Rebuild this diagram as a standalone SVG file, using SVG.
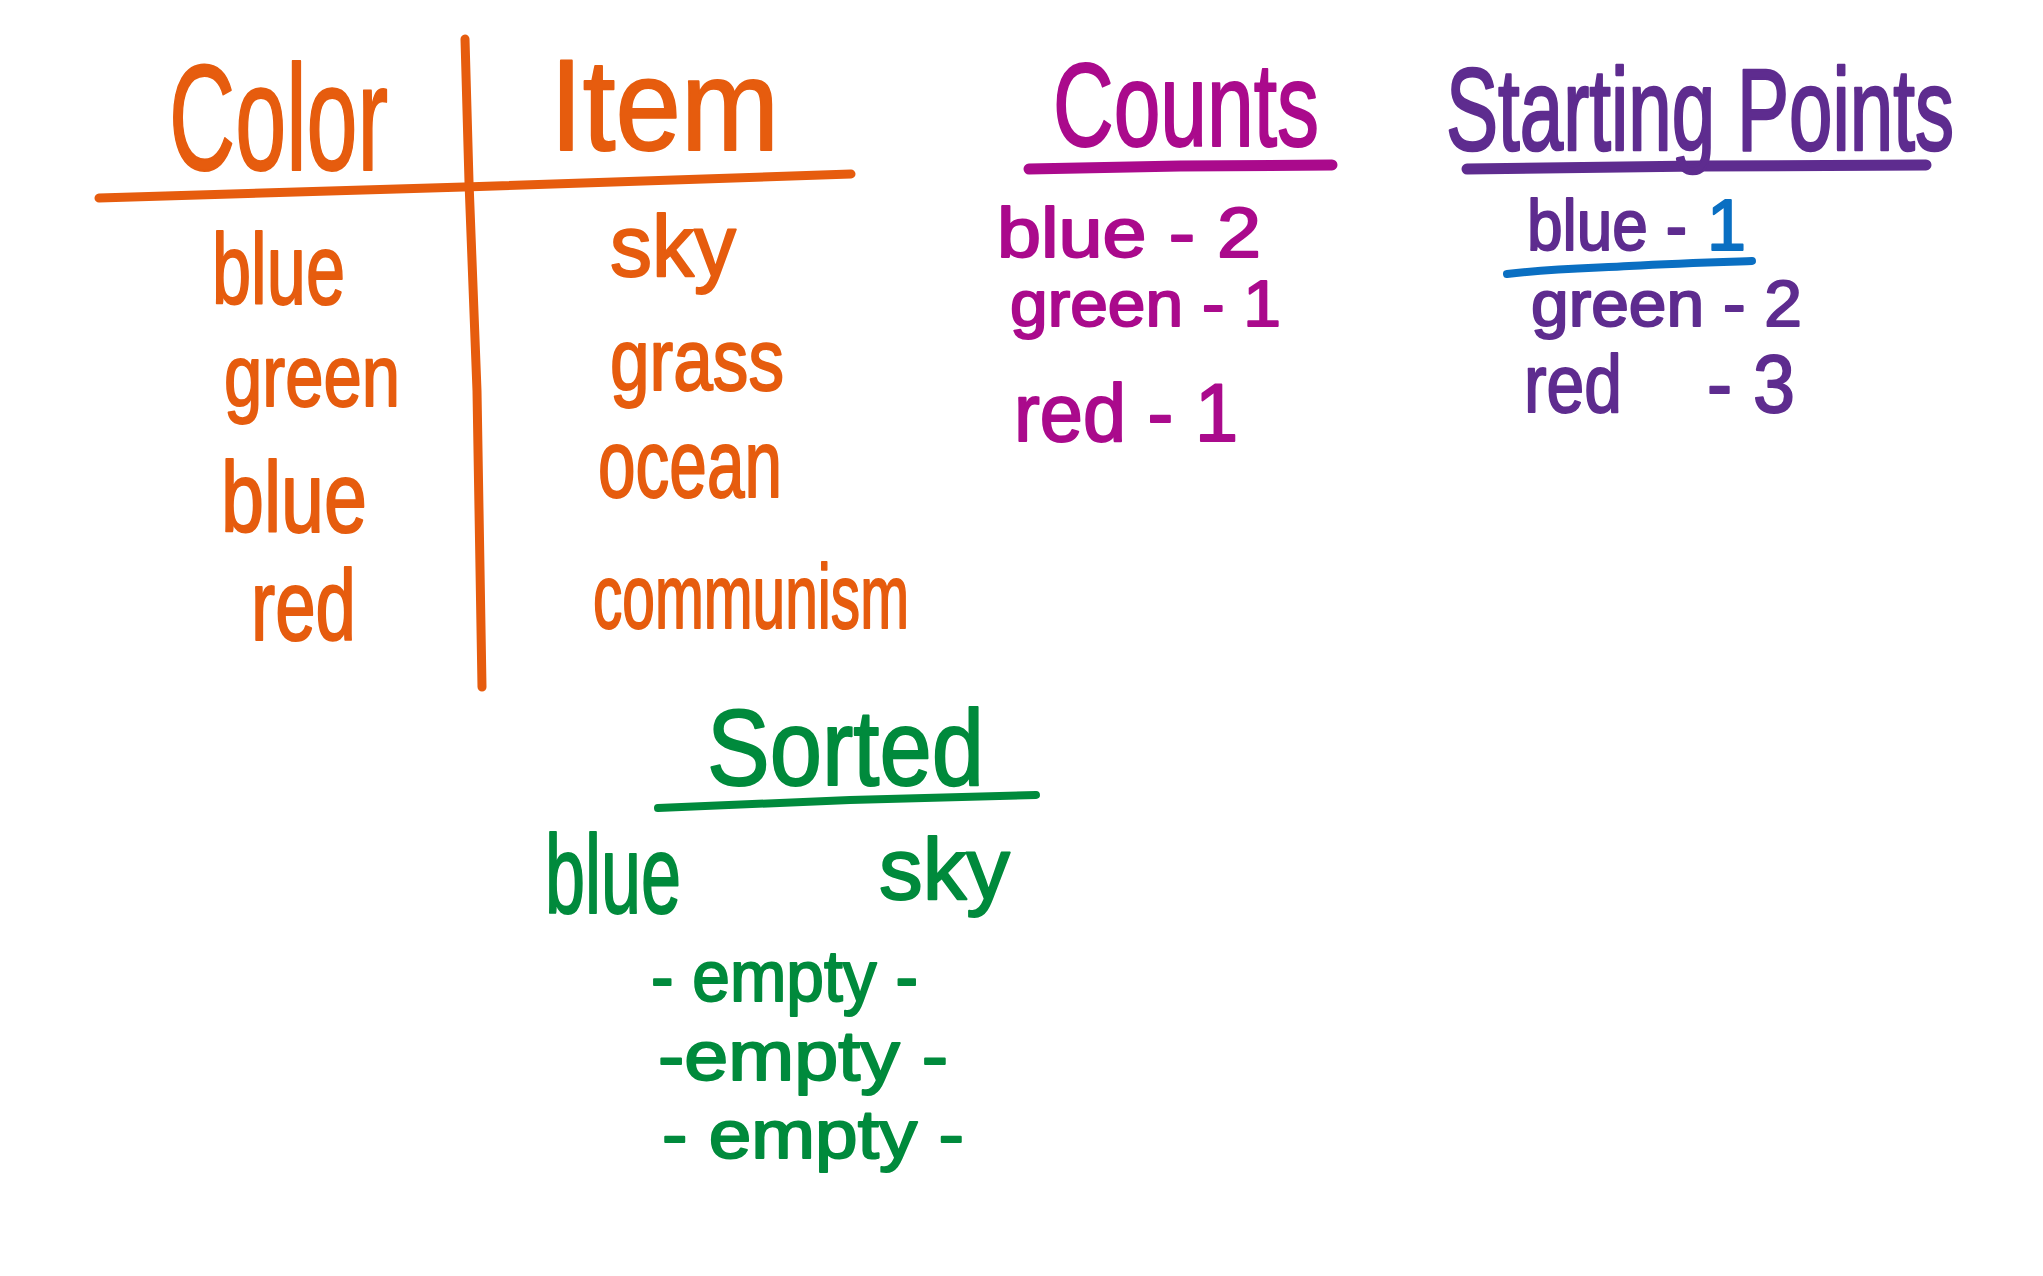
<svg xmlns="http://www.w3.org/2000/svg" width="2043" height="1276" viewBox="0 0 2043 1276">
<style>
text { font-family: "Liberation Sans", "DejaVu Sans", sans-serif; stroke-linejoin: round; stroke-width: 2; }
.or { fill: #E65C0E; stroke: #E65C0E; }
.mg { fill: #AA0A8C; stroke: #AA0A8C; }
.pu { fill: #5E2C8F; stroke: #5E2C8F; }
.bl { fill: #0A6FC2; stroke: #0A6FC2; }
.gr { fill: #008A3C; stroke: #008A3C; }
.ln { fill: none; stroke-linecap: round; stroke-linejoin: round; }
</style>
<rect width="2043" height="1276" fill="#ffffff"/>

<g id="table">
  <path class="ln" d="M465,39 L469,182 L477,391 L482,687" stroke="#E65C0E" stroke-width="9"/>
  <path class="ln" d="M99,198 L464,187 L851,174" stroke="#E65C0E" stroke-width="9"/>
  <text class="or" x="169" y="170" font-size="150" textLength="219" lengthAdjust="spacingAndGlyphs">Color</text>
  <text class="or" x="550" y="150" font-size="130" textLength="229" lengthAdjust="spacingAndGlyphs">Item</text>
  <text class="or" x="212" y="304" font-size="100" textLength="133" lengthAdjust="spacingAndGlyphs">blue</text>
  <text class="or" x="224" y="406" font-size="88" textLength="176" lengthAdjust="spacingAndGlyphs">green</text>
  <text class="or" x="221" y="532" font-size="100" textLength="146" lengthAdjust="spacingAndGlyphs">blue</text>
  <text class="or" x="251" y="640" font-size="100" textLength="105" lengthAdjust="spacingAndGlyphs">red</text>
  <text class="or" x="610" y="276" font-size="88" textLength="126" lengthAdjust="spacingAndGlyphs">sky</text>
  <text class="or" x="610" y="390" font-size="88" textLength="174" lengthAdjust="spacingAndGlyphs">grass</text>
  <text class="or" x="598" y="497" font-size="96" textLength="184" lengthAdjust="spacingAndGlyphs">ocean</text>
  <text class="or" x="593" y="628" font-size="90" textLength="316" lengthAdjust="spacingAndGlyphs">communism</text>
</g>

<g id="counts">
  <path class="ln" d="M1029,169 L1180,166 L1332,165" stroke="#AA0A8C" stroke-width="11"/>
  <text class="mg" x="1053" y="146" font-size="118" textLength="266" lengthAdjust="spacingAndGlyphs">Counts</text>
  <text class="mg" x="997" y="257" font-size="70" textLength="264" lengthAdjust="spacingAndGlyphs">blue - 2</text>
  <text class="mg" x="1010" y="326" font-size="64" textLength="271" lengthAdjust="spacingAndGlyphs">green - 1</text>
  <text class="mg" x="1014" y="441" font-size="82" textLength="224" lengthAdjust="spacingAndGlyphs">red - 1</text>
</g>

<g id="starting-points">
  <path class="ln" d="M1467,169 L1700,166 L1926,165" stroke="#5E2C8F" stroke-width="11"/>
  <text class="pu" transform="translate(1446,150) scale(1,1.3)" x="0" y="0" font-size="90" textLength="508" lengthAdjust="spacingAndGlyphs">Starting Points</text>
  <text class="pu" x="1527" y="250" font-size="72" textLength="160" lengthAdjust="spacingAndGlyphs">blue -</text>
  <text class="bl" x="1707" y="250" font-size="72" textLength="39" lengthAdjust="spacingAndGlyphs">1</text>
  <path class="ln" d="M1507,274 C1560,268 1600,268 1629,266 C1680,263 1720,262 1752,261" stroke="#0A6FC2" stroke-width="8"/>
  <text class="pu" x="1531" y="326" font-size="64" textLength="271" lengthAdjust="spacingAndGlyphs">green - 2</text>
  <text class="pu" y="412" font-size="82"><tspan x="1524" textLength="98" lengthAdjust="spacingAndGlyphs">red</tspan><tspan x="1707" textLength="88" lengthAdjust="spacingAndGlyphs">- 3</tspan></text>
</g>

<g id="sorted">
  <path class="ln" d="M658,808 L850,800 L1036,795" stroke="#008A3C" stroke-width="8"/>
  <text class="gr" x="707" y="785" font-size="108" textLength="277" lengthAdjust="spacingAndGlyphs">Sorted</text>
  <text class="gr" x="545" y="913" font-size="112" textLength="136" lengthAdjust="spacingAndGlyphs">blue</text>
  <text class="gr" x="879" y="899" font-size="88" textLength="131" lengthAdjust="spacingAndGlyphs">sky</text>
  <text class="gr" x="651" y="1001" font-size="72" textLength="267" lengthAdjust="spacingAndGlyphs">- empty -</text>
  <text class="gr" x="658" y="1080" font-size="70" textLength="290" lengthAdjust="spacingAndGlyphs">-empty -</text>
  <text class="gr" x="662" y="1158" font-size="68" textLength="302" lengthAdjust="spacingAndGlyphs">- empty -</text>
</g>
</svg>
